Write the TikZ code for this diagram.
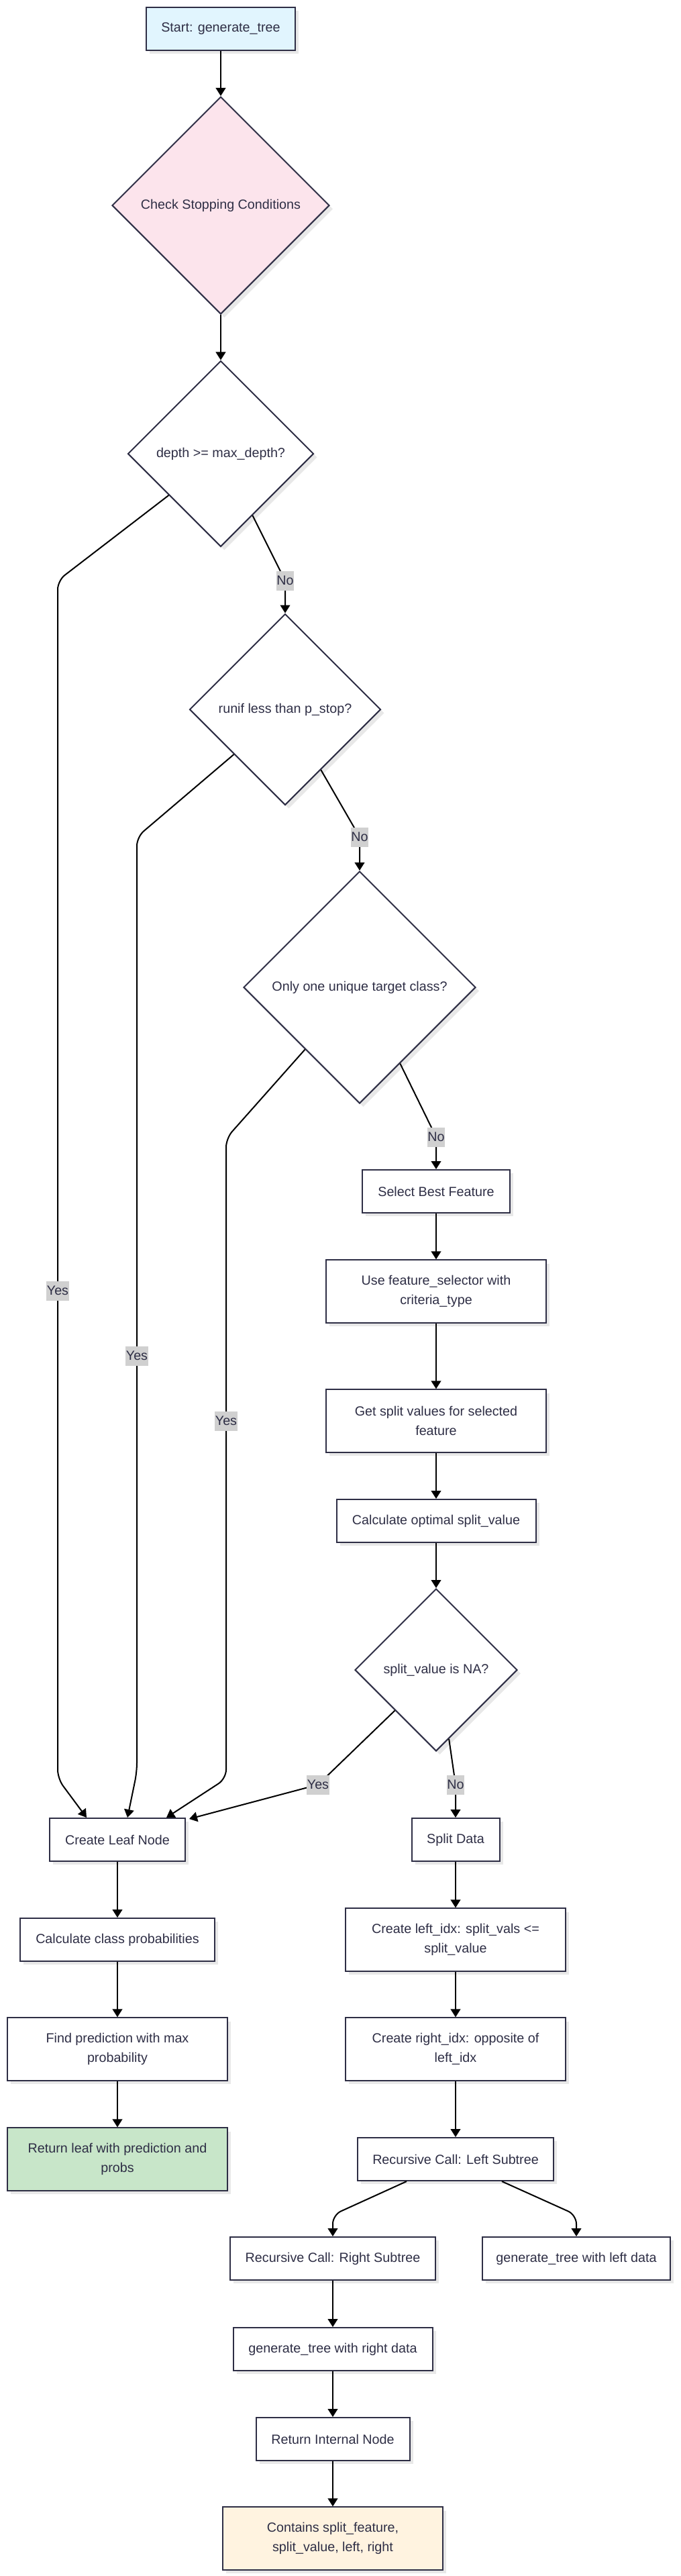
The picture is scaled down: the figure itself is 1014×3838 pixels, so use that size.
\documentclass[tikz,border=0pt]{standalone}
\usepackage{fontspec}
\setmainfont{Liberation Sans}
\usetikzlibrary{shapes.geometric,arrows.meta,calc,shadows}
\definecolor{nstroke}{HTML}{2E2E45}
\definecolor{ntext}{HTML}{2E2E45}
\definecolor{startfill}{HTML}{E1F5FE}
\definecolor{checkfill}{HTML}{FCE4EC}
\definecolor{leaffill}{HTML}{C8E6C9}
\definecolor{intfill}{HTML}{FFF3E0}
\definecolor{lblfill}{HTML}{D0D0D0}
\definecolor{shadowc}{HTML}{E8E8E8}
\begin{document}
\begin{tikzpicture}[x=0.75pt,y=-0.75pt,
  base/.style={draw=nstroke, line width=1.5pt, text=ntext,
    font=\fontsize{14.8}{21.5}\selectfont, align=center, inner sep=0pt,
    drop shadow={shadow xshift=4pt, shadow yshift=-4pt, fill=shadowc, opacity=1}},
  box/.style={base, rectangle, fill=white, minimum height=48pt},
  tallbox/.style={base, rectangle, fill=white, minimum height=70pt, minimum width=246pt},
  decision/.style={base, diamond, aspect=1, fill=white},
  lbl/.style={fill=lblfill, text=ntext, font=\fontsize{14.8}{17}\selectfont,
    inner xsep=0.5pt, inner ysep=0pt, minimum height=21.75pt},
  arr/.style={draw=black, line width=1.5pt, rounded corners=10pt,
    -{Triangle[length=9pt,width=11pt]}}
]
\useasboundingbox (0,0) rectangle (1014,3838);

% nodes
\node[box, fill=startfill, minimum width=166.5pt] (start) at (329,43) {Start: generate\_tree};
\node[decision, fill=checkfill, minimum width=243pt, minimum height=243pt] (check) at (329,306) {Check Stopping Conditions};
\node[decision, minimum width=207.75pt, minimum height=207.75pt] (depth) at (329,676) {depth >= max\_depth?};
\node[decision, minimum width=213.75pt, minimum height=213.75pt] (runif) at (425,1057) {runif less than p\_stop?};
\node[decision, minimum width=259.5pt, minimum height=259.5pt] (onlyone) at (536,1471) {Only one unique target class?};
\node[box, minimum width=165pt] (select) at (650,1775) {Select Best Feature};
\node[tallbox] (usefs) at (650,1924) {Use feature\_selector with\\criteria\_type};
\node[tallbox] (getsplit) at (650,2117) {Get split values for selected\\feature};
\node[box, minimum width=222.75pt] (calc) at (650,2266) {Calculate optimal split\_value};
\node[decision, minimum width=181.5pt, minimum height=181.5pt] (splitna) at (650,2488) {split\_value is NA?};

\node[box, minimum width=151.5pt] (leaf) at (175,2741) {Create Leaf Node};
\node[box, minimum width=217.5pt] (classprob) at (175,2890) {Calculate class probabilities};
\node[tallbox] (findpred) at (175,3053) {Find prediction with max\\probability};
\node[tallbox, fill=leaffill] (retleaf) at (175,3217) {Return leaf with prediction and\\probs};

\node[box, minimum width=98.25pt] (splitdata) at (679,2741) {Split Data};
\node[tallbox] (leftidx) at (679,2890) {Create left\_idx: split\_vals <=\\split\_value};
\node[tallbox] (rightidx) at (679,3053) {Create right\_idx: opposite of\\left\_idx};
\node[box, minimum width=219pt] (recleft) at (679,3217) {Recursive Call: Left Subtree};
\node[box, minimum width=229.5pt] (recright) at (496,3365) {Recursive Call: Right Subtree};
\node[box, minimum width=210pt] (genleft) at (859,3365) {generate\_tree with left data};
\node[box, minimum width=222.75pt] (genright) at (496,3500) {generate\_tree with right data};
\node[box, minimum width=171.75pt] (retint) at (496,3634) {Return Internal Node};
\node[tallbox, fill=intfill] (contains) at (496,3782) {Contains split\_feature,\\split\_value, left, right};

% edges
\draw[arr] (start) -- (check);
\draw[arr] (check) -- (depth);
\draw[arr] ($(depth.south)!0.556!(depth.west)$) -- (86,865) -- (86,2650) -- ($(leaf.north west)+(56,0)$);
\draw[arr] ($(depth.south)!0.34!(depth.east)$) -- (425,865) -- (runif.north);
\draw[arr] ($(runif.south)!0.533!(runif.west)$) -- (204,1247) -- (204,2640) -- ($(leaf.north west)+(117,0)$);
\draw[arr] ($(runif.south)!0.372!(runif.east)$) -- (536,1247) -- (onlyone.north);
\draw[arr] ($(onlyone.south)!0.468!(onlyone.west)$) -- (337,1696) -- (337,2650) -- ($(leaf.north west)+(175,0)$);
\draw[arr] ($(onlyone.south)!0.347!(onlyone.east)$) -- (650,1694) -- (select.north);
\draw[arr] (select) -- (usefs);
\draw[arr] (usefs) -- (getsplit);
\draw[arr] (getsplit) -- (calc);
\draw[arr] (calc) -- (splitna);
\draw[arr] ($(splitna.south)!0.504!(splitna.west)$) -- (474,2659) -- ($(leaf.north east)+(5,2)$);
\draw[arr] ($(splitna.south)!0.157!(splitna.east)$) -- (679,2659) -- (splitdata.north);
\draw[arr] (leaf) -- (classprob);
\draw[arr] (classprob) -- (findpred);
\draw[arr] (findpred) -- (retleaf);
\draw[arr] (splitdata) -- (leftidx);
\draw[arr] (leftidx) -- (rightidx);
\draw[arr] (rightidx) -- (recleft);
\draw[arr] ($(recleft.south west)+(74,0)$) -- (496,3300) -- (recright.north);
\draw[arr] ($(recleft.south west)+(216,0)$) -- (859,3300) -- (genleft.north);
\draw[arr] (recright) -- (genright);
\draw[arr] (genright) -- (retint);
\draw[arr] (retint) -- (contains);

% edge labels
\node[lbl] (ly1) at (86,1923) {Yes};
\node[lbl] (ly2) at (204,2020) {Yes};
\node[lbl] (ly3) at (337,2117) {Yes};
\node[lbl] (ly4) at (474,2659) {Yes};
\node[lbl] (ln1) at (425,865) {No};
\node[lbl] (ln2) at (536,1247) {No};
\node[lbl] (ln3) at (650,1694) {No};
\node[lbl] (ln4) at (679,2659) {No};
\end{tikzpicture}
\end{document}
